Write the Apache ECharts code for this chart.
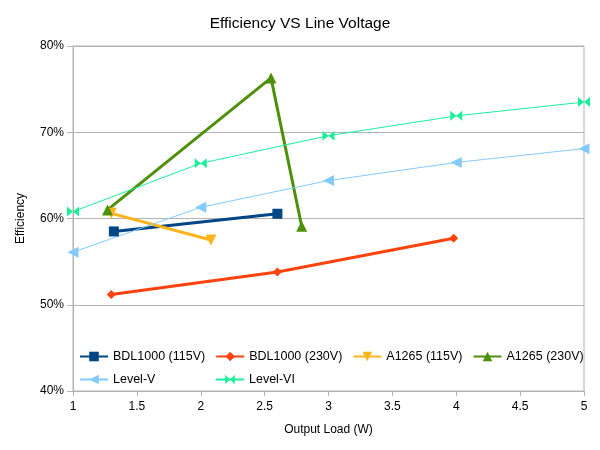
<!DOCTYPE html>
<html>
<head>
<meta charset="utf-8">
<script src="https://cdn.jsdelivr.net/npm/echarts@6/dist/echarts.min.js"></script>
<style>
  html, body { margin: 0; padding: 0; background: #fff; }
  #container { width: 600px; height: 450px; }
</style>
</head>
<body>
<div id="container"></div>
<script>
// values (x = output load in W, y = efficiency in %)
var bdl115 = [[1.32, 58.5], [2.6, 60.55]];
var bdl230 = [[1.3, 51.2], [2.6, 53.8], [3.98, 57.7]];
var a1265_115 = [[1.3, 60.6], [2.08, 57.5]];
var a1265_230 = [[1.27, 61.0], [2.55, 76.3], [2.79, 59.1]];
var levelV = [[1, 56.1], [2, 61.3], [3, 64.4], [4, 66.5], [5, 68.1]];
var levelVI = [[1, 60.8], [2, 66.4], [3, 69.6], [4, 71.9], [5, 73.5]];

var seriesNames = ['BDL1000 (115V)', 'BDL1000 (230V)', 'A1265 (115V)', 'A1265 (230V)', 'Level-V', 'Level-VI'];

window.onload = function() {

var chartDom = document.getElementById('container');
var myChart = echarts.init(chartDom);
var option;

var font = 'Liberation Sans, Arial, sans-serif';
var bowtie = 'path://M0,0L10,5L0,10ZM20,0L10,5L20,10Z';

function line(name, data, color, width, symbol, size, rotate) {
  return {
    name: name,
    type: 'line',
    data: data,
    symbol: symbol,
    symbolSize: size,
    symbolRotate: rotate || 0,
    showAllSymbol: true,
    lineStyle: { color: color, width: width },
    itemStyle: { color: color },
    emphasis: { disabled: true },
    animation: false
  };
}

// legend text box widths, so the columns line up like the reference
var legendWidths = [92, 92, 75, null, 92, null];

option = {
  textStyle: { fontFamily: font },
  title: {
    text: 'Efficiency VS Line Voltage',
    left: 'center',
    top: 11,
    textStyle: { fontSize: 15.5, fontWeight: 'normal', color: '#000', fontFamily: font }
  },
  legend: {
    data: seriesNames.map(function (n, i) {
      return legendWidths[i] ? { name: n, textStyle: { width: legendWidths[i] } } : { name: n };
    }),
    left: 79,
    top: 350,
    width: 525,
    padding: 0,
    itemGap: 10,
    itemWidth: 28,
    itemHeight: 12,
    textStyle: { fontSize: 12.5, color: '#000', lineHeight: 12, fontFamily: font }
  },
  grid: {
    left: 73,
    right: 16,
    top: 46,
    bottom: 59,
    show: true,
    borderColor: '#b3b3b3',
    borderWidth: 1
  },
  xAxis: {
    type: 'value',
    min: 1,
    max: 5,
    interval: 0.5,
    name: 'Output Load (W)',
    nameLocation: 'middle',
    nameGap: 33,
    nameTextStyle: { fontSize: 12, color: '#000' },
    axisLine: { lineStyle: { color: '#b3b3b3' } },
    axisTick: { show: true, length: 5, lineStyle: { color: '#b3b3b3' } },
    axisLabel: { fontSize: 12, color: '#000', margin: 10 },
    splitLine: { show: false }
  },
  yAxis: {
    type: 'value',
    min: 40,
    max: 80,
    interval: 10,
    name: 'Efficiency',
    nameLocation: 'middle',
    nameGap: 46,
    nameTextStyle: { fontSize: 12, color: '#000' },
    axisLine: { show: true, lineStyle: { color: '#b3b3b3' } },
    axisTick: { show: true, length: 6, lineStyle: { color: '#b3b3b3' } },
    axisLabel: { fontSize: 12, color: '#000', margin: 9, formatter: '{value}%' },
    splitLine: { show: true, lineStyle: { color: '#b3b3b3' } }
  },
  series: [
    line(seriesNames[0], bdl115, '#004586', 3, 'rect', 10),
    line(seriesNames[1], bdl230, '#ff420e', 3, 'diamond', 9),
    line(seriesNames[2], a1265_115, '#ffb31a', 3, 'triangle', 11, 180),
    line(seriesNames[3], a1265_230, '#4e8f0c', 3, 'triangle', 11),
    line(seriesNames[4], levelV, '#83caff', 1, 'triangle', 11, 90),
    line(seriesNames[5], levelVI, '#1aef9a', 1, bowtie, [12, 10])
  ]
};

option && myChart.setOption(option);

}
</script>
</body>
</html>
